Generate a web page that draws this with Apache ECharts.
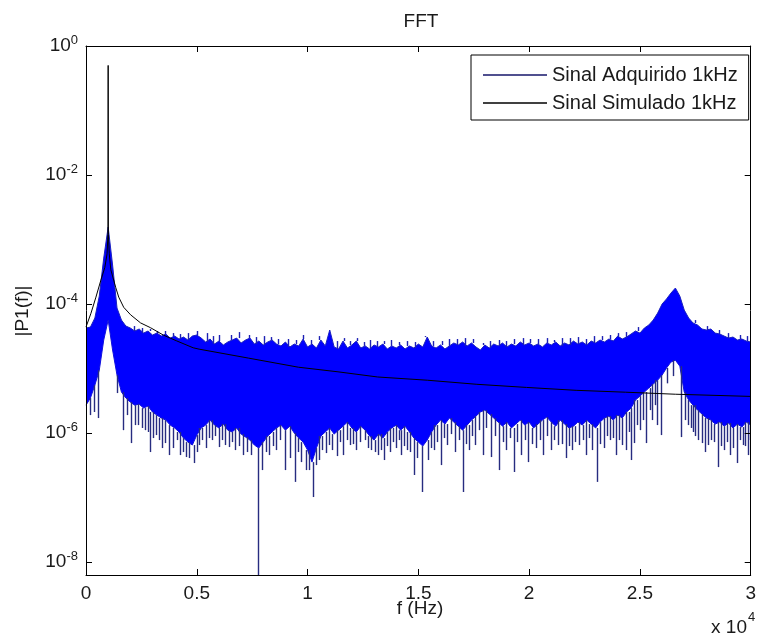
<!DOCTYPE html>
<html><head><meta charset="utf-8">
<script src="https://cdn.jsdelivr.net/npm/echarts@6/dist/echarts.min.js"></script>
<style>html,body{margin:0;padding:0;background:#fff}#c{width:759px;height:638px}</style>
</head><body><div id="c"></div>
<script>
// ---- data ----
const FREQ_STEP = 200; // Hz between envelope samples (0 .. 30000 Hz)
// top of the dense blue band (|P1(f)|)
const upperEnvelope = [
4.25e-5,4.40e-5,6.07e-5,1.33e-4,5.16e-4,1.56e-3,4.03e-4,8.67e-5,5.65e-5,4.56e-5,
4.25e-5,3.82e-5,4.10e-5,3.55e-5,3.82e-5,3.31e-5,3.55e-5,3.19e-5,3.43e-5,2.97e-5,
3.19e-5,2.87e-5,3.08e-5,2.77e-5,3.19e-5,3.31e-5,2.97e-5,2.58e-5,2.87e-5,2.40e-5,
2.67e-5,2.32e-5,2.58e-5,2.77e-5,2.97e-5,2.49e-5,2.77e-5,2.97e-5,2.40e-5,2.67e-5,
2.32e-5,2.58e-5,2.77e-5,2.40e-5,2.24e-5,2.58e-5,2.16e-5,2.40e-5,2.24e-5,2.87e-5,
2.16e-5,2.40e-5,2.08e-5,2.77e-5,2.24e-5,3.96e-5,2.16e-5,2.01e-5,2.67e-5,2.08e-5,
2.32e-5,2.67e-5,2.08e-5,2.24e-5,2.01e-5,2.32e-5,2.16e-5,2.40e-5,2.01e-5,2.24e-5,
2.08e-5,2.32e-5,2.01e-5,2.24e-5,2.08e-5,2.40e-5,2.16e-5,3.08e-5,2.24e-5,2.08e-5,
2.32e-5,2.01e-5,2.24e-5,2.49e-5,2.32e-5,2.58e-5,2.24e-5,2.49e-5,2.16e-5,1.94e-5,
2.32e-5,2.08e-5,2.40e-5,2.24e-5,2.49e-5,2.16e-5,2.40e-5,2.24e-5,2.58e-5,2.32e-5,
2.49e-5,2.24e-5,2.40e-5,2.16e-5,2.49e-5,2.32e-5,2.58e-5,2.24e-5,2.49e-5,2.32e-5,
2.67e-5,2.40e-5,2.58e-5,2.32e-5,2.67e-5,2.49e-5,2.77e-5,2.58e-5,2.87e-5,2.67e-5,
3.19e-5,2.87e-5,3.08e-5,3.43e-5,3.82e-5,3.55e-5,4.25e-5,4.73e-5,5.65e-5,7.25e-5,
1.00e-4,1.20e-4,1.48e-4,1.77e-4,1.33e-4,8.07e-5,6.07e-5,5.08e-5,4.73e-5,4.10e-5,
3.96e-5,4.10e-5,3.55e-5,3.43e-5,3.19e-5,2.97e-5,3.08e-5,2.77e-5,2.87e-5,2.67e-5,
2.58e-5];
// bottom of the dense blue band
const lowerEnvelope = [
2.71e-6,3.49e-6,5.54e-6,9.45e-6,2.77e-5,5.65e-5,1.94e-5,7.92e-6,4.32e-6,3.49e-6,
3.02e-6,2.71e-6,2.81e-6,2.44e-6,2.62e-6,2.12e-6,1.90e-6,1.71e-6,1.59e-6,1.33e-6,
1.20e-6,1.04e-6,8.37e-7,7.25e-7,6.52e-7,9.31e-7,1.20e-6,1.33e-6,1.59e-6,1.33e-6,
1.20e-6,1.38e-6,1.11e-6,1.04e-6,1.20e-6,9.65e-7,8.67e-7,7.79e-7,6.52e-7,5.86e-7,
7.25e-7,8.99e-7,1.04e-6,1.20e-6,1.33e-6,1.11e-6,1.28e-6,1.00e-6,8.37e-7,7.25e-7,
5.45e-7,3.55e-7,5.86e-7,8.99e-7,1.04e-6,1.20e-6,9.65e-7,1.11e-6,1.28e-6,1.48e-6,
1.20e-6,1.04e-6,1.28e-6,1.11e-6,8.99e-7,7.79e-7,9.65e-7,8.37e-7,1.04e-6,1.20e-6,
1.33e-6,1.11e-6,1.28e-6,1.04e-6,8.37e-7,7.25e-7,6.29e-7,7.79e-7,1.04e-6,1.33e-6,
1.59e-6,1.38e-6,1.71e-6,1.48e-6,1.28e-6,1.11e-6,1.33e-6,1.59e-6,1.83e-6,2.12e-6,
2.27e-6,1.97e-6,1.71e-6,1.48e-6,1.28e-6,1.48e-6,1.20e-6,1.38e-6,1.59e-6,1.33e-6,
1.48e-6,1.20e-6,1.38e-6,1.59e-6,1.77e-6,1.48e-6,1.28e-6,1.59e-6,1.38e-6,1.20e-6,
1.28e-6,1.48e-6,1.33e-6,1.59e-6,1.38e-6,1.20e-6,1.48e-6,1.71e-6,1.83e-6,1.59e-6,
1.90e-6,1.71e-6,2.12e-6,2.44e-6,3.25e-6,3.74e-6,4.32e-6,4.98e-6,5.74e-6,6.62e-6,
7.92e-6,1.02e-5,1.26e-5,1.35e-5,1.09e-5,4.32e-6,3.25e-6,2.71e-6,2.27e-6,1.97e-6,
1.71e-6,1.59e-6,1.38e-6,1.48e-6,1.28e-6,1.43e-6,1.20e-6,1.38e-6,1.24e-6,1.48e-6,
1.33e-6];
// deep downward spikes of the acquired signal
const spikeFreq = [179,537,1388,1657,2015,2328,2642,2910,3179,3448,3582,3761,4119,4388,4522,4657,4881,5104,5418,5687,
6000,6269,6448,6716,7075,7254,7746,7925,8239,8597,9000,9224,9448,9716,9940,10254,10522,10836,11104,11328,
11597,11910,12179,12582,12851,13164,13433,13701,13970,14239,14507,14821,15179,15448,15716,16030,16298,16657,17015,17284,
17552,17910,18269,18627,18940,19299,19612,19970,20328,20642,21000,21313,21672,21940,22254,22567,22836,23060,23373,23642,
23910,24179,24358,24582,24716,24985,25254,25567,25791,25970,26239,26507,26866,27179,27403,27627,27806,27940,28209,28522,
28791,29060,29373,29642,29866];
const spikeValue = [1.90e-6,1.71e-6,4.17e-6,1.11e-6,7.00e-7,1.33e-6,1.11e-6,5.08e-7,9.31e-7,5.86e-7,7.00e-7,4.56e-7,7.79e-7,5.08e-7,4.25e-7,4.10e-7,3.43e-7,6.52e-7,5.86e-7,7.79e-7,
6.07e-7,6.52e-7,6.07e-7,5.45e-7,4.56e-7,5.08e-7,6.3e-9,2.67e-7,4.56e-7,5.45e-7,2.67e-7,4.10e-7,1.75e-7,3.55e-7,2.67e-7,1.02e-7,3.82e-7,4.90e-7,5.45e-7,4.40e-7,
4.56e-7,6.52e-7,5.45e-7,7.79e-7,5.45e-7,4.56e-7,3.82e-7,5.08e-7,5.86e-7,4.56e-7,5.45e-7,2.24e-7,1.22e-7,3.82e-7,5.45e-7,3.19e-7,6.52e-7,5.08e-7,1.22e-7,5.45e-7,
6.52e-7,4.56e-7,4.25e-7,2.67e-7,5.45e-7,2.49e-7,4.56e-7,3.55e-7,5.86e-7,4.56e-7,5.45e-7,6.52e-7,4.10e-7,5.45e-7,6.52e-7,4.56e-7,5.45e-7,1.75e-7,5.86e-7,7.79e-7,
4.56e-7,6.52e-7,5.45e-7,3.82e-7,7.00e-7,1.11e-6,7.00e-7,1.59e-6,1.33e-6,9.31e-7,5.90e-6,7.64e-6,8.67e-7,1.33e-6,1.04e-6,7.79e-7,7.00e-7,5.08e-7,7.79e-7,2.97e-7,
5.45e-7,4.56e-7,3.43e-7,6.52e-7,4.56e-7];
// shorter downward spikes
const shortSpikeFreq = [358,1836,2194,2507,2776,3045,3313,3940,4254,5015,5239,5552,5821,6134,6582,6896,7433,8104,8418,8776,
9582,10075,10388,10657,10970,11463,11776,12045,12358,12716,13030,13298,13567,13836,14104,14373,14642,14955,15582,15851,
16164,16478,16836,17149,17418,17731,18045,18448,18806,19119,19433,19791,20149,20507,20821,21134,21493,21806,22075,22433,
22701,23194,23507,23776,24045,24493,24851,25119,25433,25701,27045,27313,27493,28075,28343,28657,28925,29194,29507,29731,29955];
const shortSpikeValue = [2.12e-6,1.90e-6,1.33e-6,1.20e-6,1.04e-6,8.37e-7,7.79e-7,5.86e-7,4.56e-7,5.08e-7,7.79e-7,8.37e-7,8.99e-7,7.79e-7,7.25e-7,6.29e-7,4.56e-7,5.08e-7,6.29e-7,7.79e-7,
5.08e-7,2.67e-7,3.19e-7,5.45e-7,6.52e-7,7.25e-7,7.79e-7,6.75e-7,7.25e-7,5.86e-7,5.08e-7,5.45e-7,6.29e-7,7.25e-7,7.79e-7,6.29e-7,5.08e-7,4.10e-7,5.86e-7,7.25e-7,
8.37e-7,9.65e-7,7.79e-7,6.75e-7,8.99e-7,1.11e-6,1.20e-6,8.99e-7,7.25e-7,8.37e-7,7.25e-7,7.79e-7,6.75e-7,7.79e-7,8.99e-7,7.79e-7,6.75e-7,6.29e-7,7.25e-7,7.79e-7,
8.37e-7,6.75e-7,8.99e-7,8.37e-7,7.79e-7,1.04e-6,1.33e-6,1.59e-6,2.27e-6,2.71e-6,1.59e-6,1.20e-6,8.99e-7,6.52e-7,7.25e-7,6.29e-7,7.25e-7,5.86e-7,7.79e-7,6.29e-7,7.79e-7];
// small upward spikes on the top edge of the band
const upSpikeFreq = [2149,2507,2866,3224,3582,3940,4254,4612,5015,5463,5731,6000,6537,6896,7343,7657,8015,8328,8687,9134,
9493,9806,10164,10522,11328,11642,11910,12224,12537,12806,13119,13433,13746,14104,14507,14866,15313,15672,16075,16388,
16746,17104,17463,17910,18224,18627,18940,19299,19701,20060,20418,20821,21134,21493,21851,22209,22567,22925,23284,23642,
24000,24358,24896,27493,28030,28567,28970,29507,29821];
const upSpikeValue = [4.56e-5,4.25e-5,4.10e-5,3.82e-5,3.82e-5,3.55e-5,3.43e-5,3.55e-5,3.82e-5,3.55e-5,3.19e-5,3.31e-5,3.31e-5,3.68e-5,3.31e-5,3.08e-5,3.19e-5,3.08e-5,2.87e-5,2.87e-5,
2.77e-5,3.31e-5,2.77e-5,3.19e-5,2.67e-5,2.97e-5,2.67e-5,2.97e-5,2.58e-5,2.77e-5,2.67e-5,2.67e-5,2.77e-5,2.58e-5,2.67e-5,2.58e-5,3.19e-5,2.67e-5,2.67e-5,2.87e-5,
2.87e-5,2.97e-5,2.87e-5,2.49e-5,2.67e-5,2.77e-5,2.67e-5,2.87e-5,2.97e-5,2.87e-5,2.87e-5,2.97e-5,2.77e-5,2.97e-5,2.97e-5,3.08e-5,2.87e-5,3.19e-5,3.19e-5,3.31e-5,
3.55e-5,3.68e-5,4.40e-5,5.65e-5,4.56e-5,3.96e-5,3.55e-5,3.31e-5,3.19e-5];
// simulated signal
const simFreq = [0,224,448,672,851,950,990,1000,1010,1050,1120,1343,1478,1702,2015,2463,2911,3493,4075,4836,5104,7343,9582,11373,13164,15403,17642,19881,22120,24358,26597,30000];
const simValue = [4.4e-5,7.2e-5,1.28e-4,2.35e-4,3.7e-4,6e-4,1.2e-3,0.5,1.2e-3,6e-4,3.4e-4,1.8e-4,1.28e-4,8.9e-5,6.8e-5,5.1e-5,4.3e-5,3.3e-5,2.7e-5,2.1e-5,2.0e-5,1.45e-5,1.05e-5,8.9e-6,7.4e-6,6.6e-6,5.7e-6,5.1e-6,4.6e-6,4.3e-6,4.0e-6,3.7e-6];
// axes
const xTickValues = [0,5000,10000,15000,20000,25000,30000];
const xTickLabels = ['0','0.5','1','1.5','2','2.5','3'];
const yTickValues = [1e-8,1e-6,1e-4,1e-2,1];
const yTickExponents = ['-8','-6','-4','-2','0'];
const Y_MIN = 6.31e-9, Y_MAX = 1;
const seriesNames = ['Sinal Adquirido 1kHz','Sinal Simulado 1kHz'];

// ---- chart ----
const FONT = '"Liberation Sans", Arial, sans-serif';
const TXT = '#1a1a1a';
const nearest = (arr, f) => arr[Math.min(arr.length-1, Math.round(f/FREQ_STEP))];
const upperData = upperEnvelope.map((v,i)=>[i*FREQ_STEP, v]);
const lowerData = lowerEnvelope.map((v,i)=>[i*FREQ_STEP, v]);
const downData = spikeFreq.map((f,i)=>[f, spikeValue[i], nearest(lowerEnvelope,f)])
  .concat(shortSpikeFreq.map((f,i)=>[f, shortSpikeValue[i], nearest(lowerEnvelope,f)]));
const upData = upSpikeFreq.map((f,i)=>[f, upSpikeValue[i], nearest(upperEnvelope,f)]);
const simData = simFreq.map((f,i)=>[f, simValue[i]]);

function spikeRenderer(color, width, mode){
  return (params, api)=>{
    const v = api.value(1), base = api.value(2);
    if (mode==='down' ? v >= base : v <= base) return null;
    const a = api.coord([api.value(0), base]);
    const b = api.coord([api.value(0), v]);
    const x = Math.round(a[0]) + 0.5;
    return {type:'line', shape:{x1:x, y1:a[1], x2:x, y2:b[1]}, style:{stroke:color, lineWidth:width}};
  };
}

const chart = echarts.init(document.getElementById('c'), null, {renderer:'canvas'});
const axisCommonX = {
  type:'value', min:0, max:30000, interval:5000,
  axisLine:{show:true, onZero:false, lineStyle:{color:'#000', width:1}},
  axisTick:{show:true, inside:true, length:6, lineStyle:{color:'#000', width:1}},
  splitLine:{show:false}, z:10
};
const axisCommonY = {
  type:'log', logBase:10, min:Y_MIN, max:Y_MAX,
  axisLine:{show:true, onZero:false, lineStyle:{color:'#000', width:1}},
  axisTick:{show:true, inside:true, length:6, customValues:yTickValues, lineStyle:{color:'#000', width:1}},
  splitLine:{show:false}, minorTick:{show:false}, z:10
};
chart.setOption({
  animation:false,
  backgroundColor:'#fff',
  grid:{left:86, right:3, top:46, bottom:63, containLabel:false},
  xAxis:[
    Object.assign({}, axisCommonX, {position:'bottom',
      axisLabel:{show:true, margin:9, fontSize:19, color:TXT, fontFamily:FONT,
        formatter:(v)=>{const k=xTickValues.indexOf(v); return k>=0?xTickLabels[k]:'';}}}),
    Object.assign({}, axisCommonX, {position:'top', axisLabel:{show:false}})
  ],
  yAxis:[
    Object.assign({}, axisCommonY, {position:'left',
      axisLabel:{show:true, margin:8, customValues:yTickValues, color:TXT, fontFamily:FONT,
        formatter:(v)=>{let k=-1; yTickValues.forEach((t,j)=>{if(Math.abs(Math.log10(v)-Math.log10(t))<1e-3)k=j;});
          return k>=0?('{b|10}{s|'+yTickExponents[k]+'}'):'';},
        rich:{b:{fontSize:19, color:TXT, fontFamily:FONT}, s:{fontSize:13, color:TXT, fontFamily:FONT, padding:[0,0,11,0]}}}}),
    Object.assign({}, axisCommonY, {position:'right', axisLabel:{show:false}})
  ],
  legend:{
    data:[
      {name:seriesNames[0], icon:'rect', itemStyle:{color:'#16166a'}},
      {name:seriesNames[1], icon:'rect', itemStyle:{color:'#000'}}
    ],
    orient:'vertical', left:471, top:55, itemWidth:64, itemHeight:1.5, itemGap:6,
    padding:[9,11,6,12], borderColor:'#000', borderWidth:1, backgroundColor:'#fff',
    textStyle:{fontSize:20, color:TXT, fontFamily:FONT, lineHeight:22}, selectedMode:false, z:20
  },
  graphic:[
    {type:'text', x:421, y:22, style:{text:'FFT', font:'19px '+FONT, fill:TXT, textAlign:'center', textVerticalAlign:'middle'}},
    {type:'text', x:420, y:609, style:{text:'f (Hz)', font:'19px '+FONT, fill:TXT, textAlign:'center', textVerticalAlign:'middle'}},
    {type:'text', x:23, y:311, rotation:Math.PI/2, style:{text:'|P1(f)|', font:'19px '+FONT, fill:TXT, textAlign:'center', textVerticalAlign:'middle'}},
    {type:'text', x:747, y:628, style:{text:'x 10', font:'19px '+FONT, fill:TXT, textAlign:'right', textVerticalAlign:'middle'}},
    {type:'text', x:748, y:617, style:{text:'4', font:'13px '+FONT, fill:TXT, textAlign:'left', textVerticalAlign:'middle'}}
  ],
  series:[
    {name:seriesNames[0], type:'line', data:upperData, symbol:'none', silent:true, z:2,
     lineStyle:{color:'#1a20c0', width:1}, itemStyle:{color:'#16166a'},
     areaStyle:{color:'#0000ff', opacity:1, origin:'start'}},
    {name:'core-bottom', type:'line', data:lowerData, symbol:'none', silent:true, z:3,
     lineStyle:{color:'#1010e0', width:1}, areaStyle:{color:'#ffffff', opacity:1, origin:'start'}},
    {name:'down-spikes', type:'custom', data:downData, silent:true, z:4, clip:true,
     encode:{x:0, y:[1,2]}, renderItem:spikeRenderer('#272c80', 1.4, 'down')},
    {name:'up-spikes', type:'custom', data:upData, silent:true, z:4, clip:true,
     encode:{x:0, y:[1,2]}, renderItem:spikeRenderer('#1c20b4', 1.4, 'up')},
    {name:seriesNames[1], type:'line', data:simData, symbol:'none', silent:true, z:5,
     lineStyle:{color:'#000', width:1}, itemStyle:{color:'#000'}}
  ]
});
</script></body></html>
